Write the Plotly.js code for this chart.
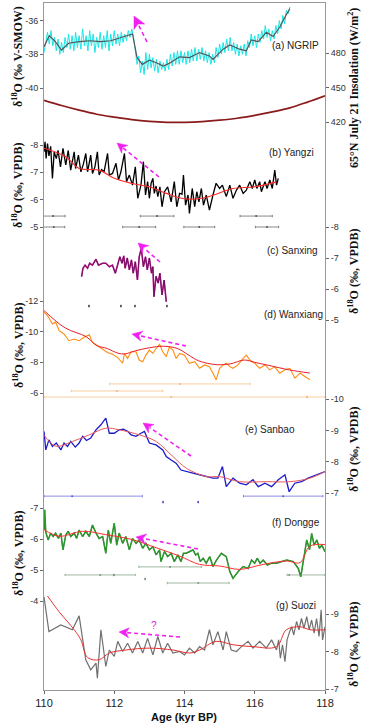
<!DOCTYPE html>
<html><head><meta charset="utf-8">
<script src="https://cdn.plot.ly/plotly-3.0.1.min.js"></script>
<style>html,body{margin:0;padding:0;background:#fff;}#chart{width:369px;height:726px;}</style>
</head><body><div id="chart"></div>
<script>
// ---------------- DATA ----------------
const xTicks = [110,112,114,116,118];
const xTickText = ['110','112','114','116','118'];

// (a) NGRIP
const ngripX = [110,110.05,110.1,110.15,110.2,110.25,110.3,110.35,110.4,110.45,110.5,110.55,110.6,110.65,110.7,110.75,110.8,110.85,110.9,110.95,111,111.05,111.1,111.15,111.2,111.25,111.3,111.35,111.4,111.45,111.5,111.55,111.6,111.65,111.7,111.75,111.8,111.85,111.9,111.95,112,112.05,112.1,112.15,112.2,112.25,112.3,112.35,112.4,112.45,112.5,112.55,112.6,112.65,112.7,112.75,112.8,112.85,112.9,112.95,113,113.05,113.1,113.15,113.2,113.25,113.3,113.35,113.4,113.45,113.5,113.55,113.6,113.65,113.7,113.75,113.8,113.85,113.9,113.95,114,114.05,114.1,114.15,114.2,114.25,114.3,114.35,114.4,114.45,114.5,114.55,114.6,114.65,114.7,114.75,114.8,114.85,114.9,114.95,115,115.05,115.1,115.15,115.2,115.25,115.3,115.35,115.4,115.45,115.5,115.55,115.6,115.65,115.7,115.75,115.8,115.85,115.9,115.95,116,116.05,116.1,116.15,116.2,116.25,116.3,116.35,116.4,116.45,116.5,116.55,116.6,116.65,116.7,116.75,116.8,116.85,116.9,116.95,117];
const ngripY = [-37.9,-37.2,-36.7,-37.4,-36.6,-37.5,-37.0,-37.8,-37.1,-38.0,
-37.3,-37.9,-37.0,-37.6,-36.8,-37.7,-36.9,-37.8,-36.7,-37.6,
-36.9,-37.7,-36.5,-37.5,-36.9,-37.8,-36.6,-37.5,-36.8,-37.9,
-37.0,-37.6,-36.7,-37.7,-36.9,-37.6,-36.6,-37.8,-36.8,-37.5,
-36.6,-37.4,-36.8,-37.5,-36.7,-37.3,-36.8,-37.2,-36.6,-37.0,
-36.5,-37.0,-37.8,-38.6,-38.1,-39.1,-38.4,-39.2,-37.9,-38.9,
-38.0,-38.8,-38.2,-39.0,-38.3,-39.1,-38.4,-38.9,-38.5,-39.0,
-38.3,-38.9,-38.0,-38.7,-37.9,-38.6,-37.8,-38.6,-37.8,-38.5,
-37.9,-38.6,-37.8,-38.5,-37.7,-38.4,-37.6,-38.4,-37.7,-38.3,
-37.6,-38.4,-37.8,-38.5,-37.9,-38.6,-38.0,-38.5,-37.6,-38.2,
-37.4,-38.0,-37.3,-37.9,-37.1,-37.8,-37.0,-37.8,-37.3,-38.0,
-37.4,-38.1,-37.5,-38.0,-37.4,-38.1,-37.2,-37.6,-36.8,-37.5,
-36.9,-37.6,-36.8,-37.3,-36.6,-37.1,-36.3,-37.0,-36.5,-37.2,
-36.6,-37.1,-36.3,-36.8,-36.0,-36.5,-35.7,-36.2,-35.4,-35.6,
-35.2];
const ngripSX = [110.0,110.15,110.3,110.5,110.7,111.0,111.3,111.6,111.9,112.15,112.4,112.52,112.65,112.8,113.0,113.2,113.4,113.6,113.86,114.14,114.43,114.71,114.81,115.1,115.29,115.57,115.76,115.9,116.1,116.33,116.52,116.71,116.9,117.0];
const ngripSY = [-37.55,-36.9,-37.2,-37.75,-37.35,-37.25,-37.2,-37.25,-37.2,-37.05,-36.9,-36.8,-38.2,-38.6,-38.35,-38.5,-38.7,-38.5,-38.15,-38.2,-37.9,-38.1,-38.3,-37.7,-37.45,-37.7,-37.8,-37.15,-37.25,-36.7,-36.95,-36.4,-35.65,-35.3];

// Insolation 65N July 21
const insX = [110,110.5,111,111.5,112,112.5,113,113.5,114,114.5,115,115.5,116,116.5,117,117.5,118];
const insY = [439,434.5,430.5,427,424.5,422.3,420.8,420,420,420.6,421.8,423.5,426,429,432.5,437.5,443];

// (b) Yangzi
const yzX = [110.0,110.03,110.06,110.1,110.14,110.19,110.24,110.29,110.35,110.4,
110.47,110.54,110.62,110.69,110.76,110.86,110.9,110.98,111.05,111.12,
111.19,111.24,111.33,111.38,111.45,111.52,111.57,111.64,111.71,111.81,
111.86,111.95,112.05,112.12,112.19,112.29,112.35,112.43,112.52,112.6,
112.67,112.76,112.83,112.89,112.95,113.0,113.05,113.1,113.14,113.19,
113.24,113.3,113.36,113.43,113.52,113.62,113.71,113.78,113.86,113.93,
113.97,114.03,114.1,114.14,114.22,114.29,114.35,114.41,114.48,114.54,
114.62,114.71,114.81,114.9,115.0,115.08,115.19,115.29,115.38,115.48,
115.57,115.67,115.76,115.86,115.93,116.0,116.06,116.14,116.19,116.29,
116.35,116.43,116.5,116.57,116.62,116.67];
const yzY = [-7.75,-8.12,-7.51,-8.05,-7.6,-7.95,-6.78,-7.75,-7.5,-7.8,
-7.2,-7.88,-7.27,-7.8,-7.08,-7.75,-7.14,-7.63,-7.02,-7.3,
-7.69,-7.02,-7.63,-6.96,-7.2,-7.75,-6.9,-7.1,-7.02,-7.69,
-6.9,-6.96,-7.33,-6.72,-7.02,-7.69,-6.66,-6.9,-6.53,-7.2,
-6.05,-6.53,-7.39,-6.17,-6.66,-6.05,-6.6,-6.78,-6.23,-6.5,
-6.11,-6.47,-5.74,-6.29,-6.47,-5.92,-6.66,-5.74,-6.23,-6.2,
-6.9,-5.8,-6.17,-5.5,-6.41,-5.74,-6.29,-5.92,-6.41,-5.8,
-6.17,-5.62,-6.17,-6.6,-6.41,-6.53,-6.11,-6.53,-6.05,-6.35,
-6.53,-6.23,-6.35,-6.66,-6.41,-6.72,-6.41,-6.66,-6.29,-6.66,
-6.41,-6.72,-6.41,-7.08,-6.53,-6.78];
const yzSX = [110,110.62,111,111.57,112,112.52,113,113.48,113.95,114.43,114.81,115.38,116,116.62];
const yzSY = [-7.88,-7.57,-7.14,-7.08,-6.78,-6.59,-6.47,-6.23,-6.04,-6.04,-6.16,-6.41,-6.47,-6.65];
const yzAgeX = [110.26,113.22,116.04,110.28,112.71,114.42,116.35];
const yzAgeY = [-5.4,-5.4,-5.4,-5.0,-5.0,-5.0,-5.0];
const yzAgeErr = [0.34,0.48,0.46,0.31,0.47,0.44,0.33];

// (c) Sanxing
const sxX = [111.07,111.11,111.17,111.24,111.3,111.38,111.48,111.55,111.67,111.76,111.86,111.95,
112.03,112.1,112.16,112.22,112.27,112.31,112.37,112.43,112.49,112.54,112.6,112.66,112.71,112.77,112.83,112.89,112.94,
113.0,113.06,113.1,113.13,113.19,113.25,113.3,113.36,113.42,113.48];
const sxY = [-6.4,-6.67,-6.77,-6.67,-6.83,-6.77,-6.96,-6.77,-6.83,-6.83,-6.72,-6.77,
-6.51,-6.83,-7.04,-6.83,-7.07,-6.67,-7.0,-6.62,-6.94,-6.51,-6.88,-6.29,-7.04,-7.31,-6.72,-7.04,-6.62,
-7.0,-6.51,-6.72,-5.75,-6.41,-6.19,-6.51,-5.81,-6.29,-5.59];
const sxAgeX = [111.28,112.19,112.59,113.5];
const sxAgeY = [-5.45,-5.45,-5.45,-5.45];

// (d) Wanxiang
const wxX = [110.0,110.1,110.24,110.33,110.43,110.57,110.71,110.86,111.0,111.14,111.29,111.38,111.52,111.67,111.81,111.95,
112.1,112.24,112.29,112.38,112.48,112.62,112.71,112.81,112.9,113.0,113.1,113.19,113.29,113.38,113.48,113.57,113.67,113.76,113.86,
114.0,114.14,114.29,114.43,114.57,114.71,114.81,114.9,115.0,115.1,115.19,115.29,115.38,115.52,115.67,115.76,115.86,
116.0,116.14,116.29,116.43,116.57,116.71,116.86,117.0,117.14,117.29,117.43,117.57];
const wxY = [-11.27,-11.05,-10.5,-10.62,-10.07,-9.85,-9.41,-9.52,-9.41,-9.63,-9.8,-9.3,-9.08,-8.86,-8.64,-8.53,
-8.31,-7.94,-8.58,-8.26,-8.69,-8.69,-8.15,-8.04,-8.47,-8.8,-8.58,-8.9,-9.17,-8.69,-8.37,-9.0,-8.8,-8.26,-8.58,
-8.47,-7.94,-8.04,-7.61,-7.83,-7.72,-7.29,-6.86,-7.61,-7.83,-7.94,-7.72,-7.61,-7.83,-8.26,-8.47,-8.15,
-7.94,-7.61,-7.83,-7.51,-7.72,-7.29,-7.51,-7.61,-6.97,-7.29,-7.08,-6.86];
const wxSX = [110,110.6,111.2,111.5,111.8,112.1,112.3,112.6,113.0,113.4,113.8,114.1,114.4,114.9,115.3,115.7,116.0,116.4,117.0,117.57];
const wxSY = [-11.38,-10.25,-9.67,-9.1,-8.9,-8.6,-8.55,-8.75,-8.95,-9.05,-8.9,-8.5,-8.1,-7.85,-7.9,-8.15,-8.0,-7.8,-7.5,-7.3];
const wxAgeX = [113.87,112.08,113.62,117.49];
const wxAgeY = [-6.59,-6.13,-5.74,-5.74];
const wxAgePlus = [2.0,1.3,4.38,0];
const wxAgeMinus = [2.0,1.3,3.62,0];

// (e) Sanbao
const sbX = [110.0,110.05,110.14,110.24,110.35,110.48,110.57,110.67,110.76,110.89,
111.0,111.1,111.21,111.33,111.48,111.62,111.76,111.86,
112.0,112.14,112.26,112.38,112.48,112.62,112.76,112.86,
113.0,113.19,113.38,113.48,113.62,113.76,113.9,
114.05,114.24,114.43,114.62,114.81,114.95,
115.08,115.19,115.38,115.57,115.76,115.95,
116.1,116.29,116.48,116.67,116.86,116.98,
117.14,117.33,117.52,117.76,118.0];
const sbY = [-8.97,-8.38,-8.7,-8.49,-8.6,-8.38,-8.6,-8.49,-8.65,-8.47,
-8.6,-8.81,-8.68,-8.76,-9.02,-9.18,-9.39,-8.91,
-8.91,-9.02,-9.04,-8.97,-8.86,-8.81,-8.91,-8.97,
-8.6,-8.54,-8.38,-8.17,-8.06,-7.96,-7.74,
-7.69,-7.64,-7.59,-7.53,-7.48,-7.48,
-7.85,-7.21,-7.48,-7.32,-7.27,-7.43,
-7.21,-7.32,-7.21,-7.43,-7.59,-7.05,
-7.32,-7.37,-7.48,-7.59,-7.69];
const sbSX = [110,110.33,110.81,111.29,111.76,112.14,112.71,113.19,113.67,114.05,114.62,115.0,115.57,116.33,117.0,117.57,118];
const sbSY = [-8.85,-8.5,-8.65,-8.86,-9.07,-9.02,-8.86,-8.65,-8.17,-7.8,-7.53,-7.53,-7.37,-7.37,-7.37,-7.48,-7.69];
const sbAgeX = [110.8,116.81,113.39,114.39];
const sbAgeY = [-6.91,-6.91,-6.72,-6.72];
const sbAgePlus = [2.0,1.13,0,0];
const sbAgeMinus = [0.8,1.13,0,0];

// (f) Dongge
const dgX = [110.0,110.02,110.05,110.12,110.19,110.26,110.33,110.41,110.48,110.54,
110.62,110.69,110.76,110.86,110.93,111.0,111.1,111.19,111.29,111.38,
111.48,111.57,111.67,111.76,111.83,111.9,112.0,112.07,112.14,112.24,
112.33,112.43,112.52,112.62,112.71,112.81,112.9,113.0,113.1,113.19,
113.29,113.33,113.43,113.52,113.62,113.71,113.81,113.9,113.97,114.05,
114.14,114.24,114.32,114.38,114.45,114.53,114.62,114.72,114.81,114.91,
115.05,115.19,115.29,115.38,115.53,115.67,115.81,115.91,116.0,116.07,
116.15,116.24,116.36,116.48,116.62,116.76,116.91,117.1,117.24,117.31,
117.4,117.48,117.56,117.62,117.69,117.77,117.84,117.91,118.0];
const dgY = [-6.29,-6.94,-6.22,-5.97,-6.19,-6.08,-6.19,-6.02,-6.19,-5.65,
-6.13,-6.25,-6.08,-6.19,-6.02,-6.29,-6.08,-6.25,-6.08,-6.45,
-6.19,-6.02,-6.08,-5.54,-6.29,-5.86,-6.51,-5.8,-6.19,-5.86,
-6.08,-5.65,-6.02,-5.86,-5.97,-5.7,-5.86,-5.65,-5.75,-5.49,
-5.65,-5.27,-5.6,-5.43,-5.54,-5.27,-5.49,-5.27,-5.54,-5.54,
-5.59,-5.65,-5.48,-5.54,-5.27,-5.38,-5.22,-5.43,-5.11,-5.32,
-5.54,-5.43,-4.95,-4.73,-4.95,-5.11,-5.05,-5.32,-5.22,-5.38,
-5.22,-5.32,-5.16,-5.22,-5.22,-5.27,-5.32,-5.27,-5.05,-4.78,
-5.48,-5.97,-5.65,-6.18,-5.8,-5.97,-5.7,-5.8,-5.59];
const dgSX = [110,110.43,111.1,111.76,112.52,113.19,113.86,114.43,115.0,115.57,116.24,116.9,117.29,117.57,118];
const dgSY = [-6.3,-6.09,-6.25,-6.14,-5.98,-5.72,-5.45,-5.18,-5.13,-5.02,-5.18,-5.29,-5.24,-5.77,-5.82];
const dgAgeX = [113.59,111.6,116.98,112.88,114.39,111.99];
const dgAgeY = [-5.1,-4.84,-4.84,-4.71,-4.58,-4.84];
const dgAgePlus = [0.89,1.0,1.02,0,0.88,0];
const dgAgeMinus = [0.89,1.0,0.06,0,0.88,0];

// (g) Suozi
const szX = [110.0,110.14,110.48,110.81,111.0,111.19,111.33,111.48,111.52,111.62,
111.76,111.86,112.0,112.1,112.24,112.38,112.52,112.67,112.81,112.95,
113.1,113.24,113.38,113.52,113.67,113.86,114.0,114.14,114.29,114.43,
114.57,114.71,114.81,114.95,115.1,115.19,115.33,115.48,115.62,115.81,
115.95,116.14,116.33,116.48,116.62,116.68,116.73,116.79,116.86,116.92,
116.98,117.05,117.11,117.19,117.26,117.33,117.4,117.48,117.55,117.62,
117.69,117.76,117.83,117.89,117.93,118.0];
const szY = [-9.46,-8.53,-8.71,-8.58,-8.95,-7.78,-7.51,-7.69,-7.29,-8.58,
-7.6,-8.04,-7.87,-8.27,-8.0,-8.22,-7.96,-8.27,-7.96,-8.35,
-7.91,-8.4,-7.96,-8.22,-7.96,-8.0,-7.91,-8.09,-7.96,-8.13,
-8.04,-8.58,-8.18,-8.53,-8.04,-8.53,-8.04,-8.0,-8.13,-8.27,
-8.09,-8.27,-8.09,-8.31,-8.04,-8.31,-7.82,-8.18,-7.73,-8.31,
-8.49,-8.66,-8.44,-8.8,-8.58,-8.88,-8.62,-8.93,-8.58,-8.84,
-8.49,-8.88,-8.4,-9.11,-8.31,-8.66];
const szSX = [110.1,110.43,110.86,111.05,111.24,111.57,111.86,112.33,113.0,113.67,114.14,114.43,114.9,115.38,115.95,116.62,116.9,117.29,117.57,118];
const szSY = [-9.48,-9.06,-8.58,-8.31,-7.84,-7.78,-7.96,-8.04,-8.09,-8.04,-7.96,-8.04,-8.27,-8.18,-8.13,-8.13,-8.58,-8.66,-8.58,-8.58];

// tick labels
const ngripTicks = [-36,-38,-40], ngripTickText = ['-36','-38','-40'];
const insTicks = [480,450,420], insTickText = ['480','450','420'];
const yzTicks = [-8,-7,-6,-5], yzTickText = ['-8','-7','-6','-5'];
const sxTicks = [-8,-7,-6,-5], sxTickText = ['-8','-7','-6','-5'];
const wxTicks = [-12,-10,-8,-6], wxTickText = ['-12','-10','-8','-6'];
const sbTicks = [-10,-9,-8,-7], sbTickText = ['-10','-9','-8','-7'];
const dgTicks = [-7,-6,-5,-4], dgTickText = ['-7','-6','-5','-4'];
const szTicks = [-9,-8,-7], szTickText = ['-9','-8','-7'];

const panelLabels = ['(a) NGRIP','(b) Yangzi','(c) Sanxing','(d) Wanxiang','(e) Sanbao','(f) Dongge','(g) Suozi'];

// ---------------- LAYOUT HELPERS ----------------
const W = 369, H = 726, L = 44, R = 325, T = 3, B = 690;
function px(p){ return (p - L) / (R - L); }
function py(p){ return (B - p) / (B - T); }
function rng(v1,p1,v2,p2){ const s = (v2 - v1) / (p2 - p1); return [v1 + (B - p1) * s, v1 + (T - p1) * s]; }

const tickFont = {family:'Arial, Liberation Sans, sans-serif', size:9, color:'#333'};
function yax(range, tv, tt, side, extra){
  return Object.assign({range:range, tickvals:tv, ticktext:tt, side:side, anchor:'x', overlaying:'y',
    showgrid:false, zeroline:false, showline:false, ticks:'outside', ticklen:3, tickwidth:1, tickcolor:'#666',
    tickfont:tickFont, fixedrange:true}, extra||{});
}

function line(x,y,ax,color,width,extra){
  return Object.assign({x:x,y:y,yaxis:ax,xaxis:'x',type:'scatter',mode:'lines',line:{color:color,width:width},hoverinfo:'skip'}, extra||{});
}
function ages(x,y,ax,color,plus,minus,msize){
  return {x:x,y:y,yaxis:ax,xaxis:'x',type:'scatter',mode:'markers',marker:{size:msize||2,color:color},
    error_x:{type:'data',symmetric:false,array:plus,arrayminus:minus,color:color,thickness:0.7,width:1.2},hoverinfo:'skip'};
}

const traces = [
  line(insX, insY, 'y2', '#8b1a1a', 1.7, {line:{color:'#8b1a1a',width:1.7,shape:'spline'}}),
  line(ngripX, ngripY, 'y', '#19e6e6', 1.0),
  line(ngripSX, ngripSY, 'y', '#555555', 1.2),
  line(yzX, yzY, 'y3', '#000000', 1.3),
  line(yzSX, yzSY, 'y3', '#ff2a2a', 1.1, {line:{color:'#ff2a2a',width:1.1,shape:'spline'}}),
  ages(yzAgeX, yzAgeY, 'y3', '#555555', yzAgeErr, yzAgeErr),
  line(sxX, sxY, 'y4', '#c0188f', 1.6),
  line(sxX, sxY, 'y4', '#5e1358', 0.8),
  ages(sxAgeX, sxAgeY, 'y4', '#333333', [0,0,0,0], [0,0,0,0], 1.6),
  line(wxX, wxY, 'y5', '#ff8c10', 1.1),
  line(wxSX, wxSY, 'y5', '#e8202a', 1.0, {line:{color:'#e8202a',width:1.0,shape:'spline'}}),
  ages(wxAgeX, wxAgeY, 'y5', '#f5b77a', wxAgePlus, wxAgeMinus),
  line(sbX, sbY, 'y6', '#1a1acc', 1.3),
  line(sbSX, sbSY, 'y6', '#ea5a5a', 1.0, {line:{color:'#ea5a5a',width:1.0,shape:'spline'}}),
  ages(sbAgeX, sbAgeY, 'y6', '#5a5ad8', sbAgePlus, sbAgeMinus),
  line(dgX, dgY, 'y7', '#1f7a1f', 1.5),
  line(dgX, dgY, 'y7', '#35b335', 0.6),
  line(dgSX, dgSY, 'y7', '#ff3030', 1.0, {line:{color:'#ff3030',width:1.0,shape:'spline'}}),
  ages(dgAgeX, dgAgeY, 'y7', '#7a9a7a', dgAgePlus, dgAgeMinus),
  line(szX, szY, 'y8', '#707070', 1.2),
  line(szSX, szSY, 'y8', '#e83030', 1.0, {line:{color:'#e83030',width:1.0,shape:'spline'}})
];

// ---------------- ANNOTATIONS / SHAPES ----------------
const ann = [];
const shapes = [];
const titleFont = {family:'Liberation Serif, Times New Roman, serif', size:12, color:'#111'};
function ytitle(text, xp, yp){
  ann.push({text:'<b>'+text+'</b>', xref:'paper', yref:'paper', x:px(xp), y:py(yp), textangle:-90,
    showarrow:false, font:titleFont, xanchor:'center', yanchor:'middle'});
}
const d18 = 'δ<sup>18</sup>O (‰, VPDB)';
ytitle('δ<sup>18</sup>O (‰ V-SMOW)', 18, 57);
ytitle('65°N July 21 Insolation (W/m<sup>2</sup>)', 353, 88);
ytitle(d18, 18, 186);
ytitle(d18, 353, 272);
ytitle(d18, 18, 346);
ytitle(d18, 353, 450);
ytitle(d18, 18, 554);
ytitle(d18, 353, 645);

const labelPos = [[295,45],[291,153],[292,250],[293,315],[270,430],[296,522],[296,605]];
panelLabels.forEach((t,i)=>{
  ann.push({text:t, xref:'paper', yref:'paper', x:px(labelPos[i][0]), y:py(labelPos[i][1]), showarrow:false,
    font:{family:'Arial, Liberation Sans, sans-serif', size:10, color:'#222'}, xanchor:'center', yanchor:'middle'});
});
ann.push({text:'<b>Age (kyr BP)</b>', xref:'paper', yref:'paper', x:px(184), y:py(717), showarrow:false,
  font:{family:'Arial, Liberation Sans, sans-serif', size:11, color:'#111'}, xanchor:'center', yanchor:'middle'});
ann.push({text:'?', xref:'paper', yref:'paper', x:px(154), y:py(625), showarrow:false,
  font:{family:'Arial, Liberation Sans, sans-serif', size:10, color:'#e020e0'}, xanchor:'center', yanchor:'middle'});

const MAG = '#f020f0';
function arrow(tip, tail, hl, hw){
  const dx = tip[0]-tail[0], dy = tip[1]-tail[1];
  const len = Math.hypot(dx,dy), ux = dx/len, uy = dy/len;
  const bx = tip[0]-ux*hl, by = tip[1]-uy*hl;
  const nx = -uy, ny = ux;
  shapes.push({type:'line', xref:'paper', yref:'paper', x0:px(tail[0]), y0:py(tail[1]), x1:px(bx+ux*2), y1:py(by+uy*2),
    line:{color:MAG, width:1.6, dash:'4px,3px'}});
  const p1 = [bx+nx*hw, by+ny*hw], p2 = [bx-nx*hw, by-ny*hw];
  const pth = 'M '+px(tip[0])+' '+py(tip[1])+' L '+px(p1[0])+' '+py(p1[1])+' L '+px(bx+ux*3)+' '+py(by+uy*3)+' L '+px(p2[0])+' '+py(p2[1])+' Z';
  shapes.push({type:'path', xref:'paper', yref:'paper', path:pth, fillcolor:MAG, line:{color:MAG, width:0.5}});
}
arrow([134,16],[147,42],12,6);
arrow([117,143],[159,177],10,5);
arrow([138,243],[160,262],10,5);
arrow([132,334],[186,346],10,5);
arrow([143,423],[191,456],10,5);
arrow([136,537],[198,549],10,5);
arrow([119,632],[180,637],10,5);

const layout = {
  width:W, height:H, margin:{l:L, r:W-R, t:T, b:H-B, pad:0},
  paper_bgcolor:'#fff', plot_bgcolor:'#fff', showlegend:false, hovermode:false,
  xaxis:{range:[110,118], tickvals:xTicks, ticktext:xTickText, showgrid:false, zeroline:false,
    showline:true, mirror:true, linecolor:'#999', linewidth:1, ticks:'outside', ticklen:3, tickcolor:'#666',
    tickfont:{family:'Arial, Liberation Sans, sans-serif', size:11, color:'#222'}, fixedrange:true},
  yaxis:{range:rng(-36,20.5,-40,88), tickvals:ngripTicks, ticktext:ngripTickText, side:'left', anchor:'x',
    showgrid:false, zeroline:false, showline:true, mirror:true, linecolor:'#999', linewidth:1,
    ticks:'outside', ticklen:3, tickcolor:'#666', tickfont:tickFont, fixedrange:true},
  yaxis2: yax(rng(480,53,420,122.3), insTicks, insTickText, 'right'),
  yaxis3: yax(rng(-8,145,-5,227), yzTicks, yzTickText, 'left'),
  yaxis4: yax(rng(-8,227,-5,320), sxTicks, sxTickText, 'right'),
  yaxis5: yax(rng(-12,301,-6,393), wxTicks, wxTickText, 'left'),
  yaxis6: yax(rng(-10,399,-7,493.3), sbTicks, sbTickText, 'right'),
  yaxis7: yax(rng(-7,508,-4,601), dgTicks, dgTickText, 'left'),
  yaxis8: yax(rng(-9,614,-7,689), szTicks, szTickText, 'right'),
  annotations: ann,
  shapes: shapes
};

Plotly.newPlot('chart', traces, layout, {staticPlot:true, displayModeBar:false});
</script></body></html>
